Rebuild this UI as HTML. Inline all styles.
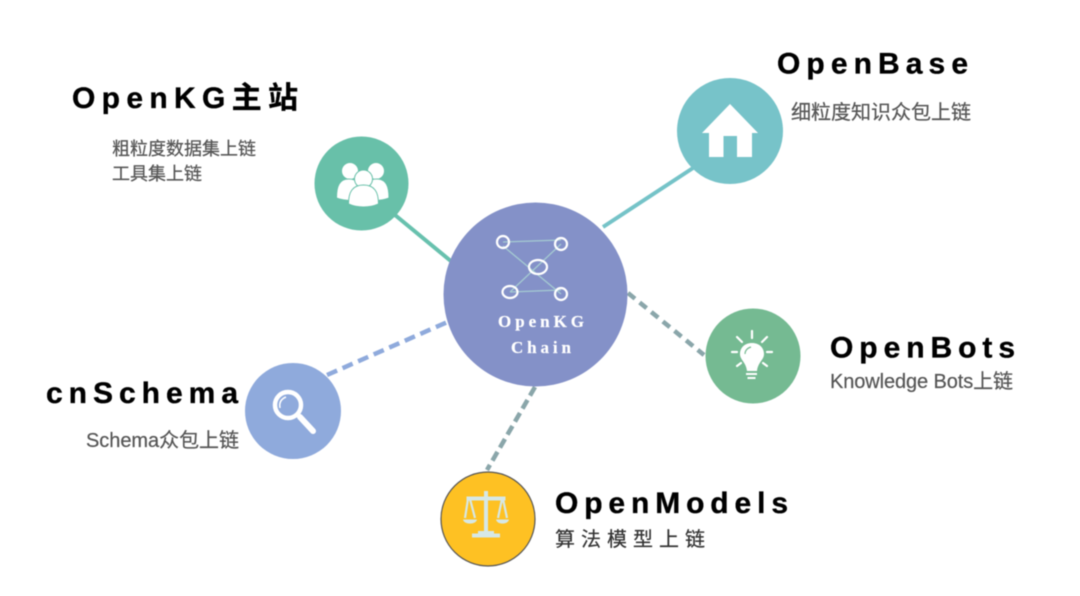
<!DOCTYPE html>
<html lang="zh">
<head>
<meta charset="utf-8">
<style>
html,body{margin:0;padding:0;background:#fff;width:1080px;height:596px;overflow:hidden}
svg{display:block;filter:blur(0.45px)}
.t{font-family:"Liberation Sans","Noto Sans CJK SC",sans-serif;font-weight:bold;font-size:30px;fill:#000;stroke:#000;stroke-width:.35px}
.s{font-family:"Liberation Sans","Noto Sans CJK SC",sans-serif;fill:#555;font-size:18px;stroke:#555;stroke-width:.2px}
.c{font-family:"Liberation Serif",serif;font-weight:bold;font-size:17px;fill:#fff;stroke:#fff;stroke-width:.2px}
</style>
</head>
<body>
<svg width="1080" height="596" viewBox="0 0 1080 596" xmlns="http://www.w3.org/2000/svg">
<rect width="1080" height="596" fill="#fff"/>

<!-- connectors -->
<line x1="395" y1="215" x2="452" y2="262" stroke="#68c1ae" stroke-width="4"/>
<line x1="603" y1="227" x2="693" y2="168" stroke="#75c3c8" stroke-width="4"/>
<line x1="628" y1="293" x2="704" y2="355" stroke="#8aa6aa" stroke-width="4.5" stroke-dasharray="9 6"/>
<line x1="327" y1="375" x2="452" y2="320" stroke="#8faadc" stroke-width="4.5" stroke-dasharray="11 6"/>
<line x1="535" y1="387" x2="487" y2="470" stroke="#8aa6aa" stroke-width="4.5" stroke-dasharray="10 5"/>

<!-- circles -->
<circle cx="535.5" cy="294.5" r="92" fill="#8491c8"/>
<circle cx="361.5" cy="183.5" r="47" fill="#68c0a9"/>
<circle cx="730" cy="131" r="53" fill="#77c3c9"/>
<circle cx="753" cy="356" r="47.5" fill="#75ba92"/>
<circle cx="488" cy="519" r="47" fill="#fec123" stroke="#555" stroke-width="1.2"/>
<circle cx="293" cy="411" r="48" fill="#8faadc"/>

<!-- center graph -->
<g stroke="#a5cbd2" stroke-width="1.3" fill="none">
<line x1="503" y1="242" x2="561" y2="240"/>
<line x1="503" y1="246" x2="561" y2="294"/>
<line x1="561" y1="244" x2="510" y2="292"/>
<line x1="510" y1="292" x2="561" y2="290"/>
</g>
<g stroke="#fff" stroke-width="2.200" fill="none">
<circle cx="503" cy="242" r="6"/>
<circle cx="561" cy="244" r="6"/>
<ellipse cx="538" cy="267" rx="9" ry="7"/>
<ellipse cx="510" cy="292" rx="7.5" ry="6"/>
<circle cx="561" cy="294" r="6"/>
</g>
<text class="c" x="498" y="327" textLength="86" lengthAdjust="spacing">OpenKG</text>
<text class="c" x="511" y="353" textLength="60" lengthAdjust="spacing">Chain</text>

<!-- people icon -->
<g fill="#fff" stroke="#68c0a9" stroke-width="1">
<circle cx="350" cy="171" r="8.500"/>
<circle cx="376" cy="171" r="8.500"/>
<path d="M336.500 198c0-12 3-19 12-19s12 5 14 10v11c-9 1-19 1-26-2z"/>
<path d="M389 198c0-12-3-19-12-19s-12 5-14 10v11c9 1 19 1 26-2z"/>
<circle cx="363.500" cy="179" r="9"/>
<path d="M348.500 204c0-12 4-19 15-19s15 7 15 19c-9 4-21 4-30 0z"/>
</g>

<!-- house icon -->
<path d="M730 104L758 133H752V157H737V136H723.500V157H709V133H702z" fill="#fff"/>

<!-- bulb icon -->
<g fill="none" stroke="#fff" stroke-width="2.200" stroke-linecap="round">
<line x1="752" y1="331" x2="752" y2="338"/>
<line x1="737" y1="337" x2="742" y2="342"/>
<line x1="767" y1="337" x2="762" y2="342"/>
<line x1="732" y1="352" x2="737" y2="352"/>
<line x1="767" y1="352" x2="772" y2="352"/>
<line x1="737" y1="366" x2="741" y2="363"/>
<line x1="767" y1="366" x2="763" y2="363"/>
</g>
<path d="M752 343c7.500 0 12 5 12 11 0 6-6 8-7 17h-10c-1-9-7-11-7-17 0-6 4.500-11 12-11z" fill="#fff"/>
<path d="M745 354c0-3 2-6 6-7" stroke="#75ba92" stroke-width="1.200" fill="none"/>
<rect x="746" y="373" width="11" height="2" fill="#fff"/>
<rect x="747.500" y="377" width="8" height="2" fill="#fff"/>

<!-- scale icon -->
<g fill="#d6e8e6">
<rect x="484" y="491" width="4" height="43"/>
<rect x="466.500" y="496.500" width="39" height="4"/>
<rect x="472" y="533.500" width="28" height="4"/>
<rect x="478" y="531" width="16" height="3"/>
<path d="M463 519.500H477C476 525 464 525 463 519.500z"/>
<path d="M496 519.500H509C508 525 497 525 496 519.500z"/>
</g>
<g stroke="#d6e8e6" stroke-width="2.200" fill="none">
<path d="M468 499L465 518M470 499L475 518"/>
<path d="M502 499L498 518M503 499L507 518"/>
</g>

<!-- magnifier icon -->
<circle cx="288" cy="405" r="13" fill="none" stroke="#fff" stroke-width="4.500"/>
<path d="M280 408c-1-5 1-9 6-11" fill="none" stroke="#fff" stroke-width="1.500"/>
<line x1="300" y1="417" x2="313" y2="431" stroke="#fff" stroke-width="6" stroke-linecap="round"/>

<!-- labels -->
<text class="t" x="72" y="108" textLength="226" lengthAdjust="spacing">OpenKG主站</text>
<text class="s" x="112" y="155" textLength="144" lengthAdjust="spacing">粗粒度数据集上链</text>
<text class="s" x="112" y="180" textLength="90" lengthAdjust="spacing">工具集上链</text>

<text class="t" x="777" y="73.500" textLength="191" lengthAdjust="spacing">OpenBase</text>
<text class="s" x="791" y="119" style="font-size:20px" textLength="180" lengthAdjust="spacing">细粒度知识众包上链</text>

<text class="t" x="830" y="357.500" textLength="185" lengthAdjust="spacing">OpenBots</text>
<text class="s" x="830" y="388" style="font-size:20px" textLength="183" lengthAdjust="spacing">Knowledge Bots上链</text>

<text class="t" x="555" y="513" textLength="233" lengthAdjust="spacing">OpenModels</text>
<text class="s" x="555" y="546" style="font-size:20px;fill:#333;stroke:#333" textLength="150" lengthAdjust="spacing">算法模型上链</text>

<text class="t" x="46" y="403" textLength="192" lengthAdjust="spacing">cnSchema</text>
<text class="s" x="86" y="447" style="font-size:20px" textLength="153" lengthAdjust="spacing">Schema众包上链</text>
</svg>
</body>
</html>
